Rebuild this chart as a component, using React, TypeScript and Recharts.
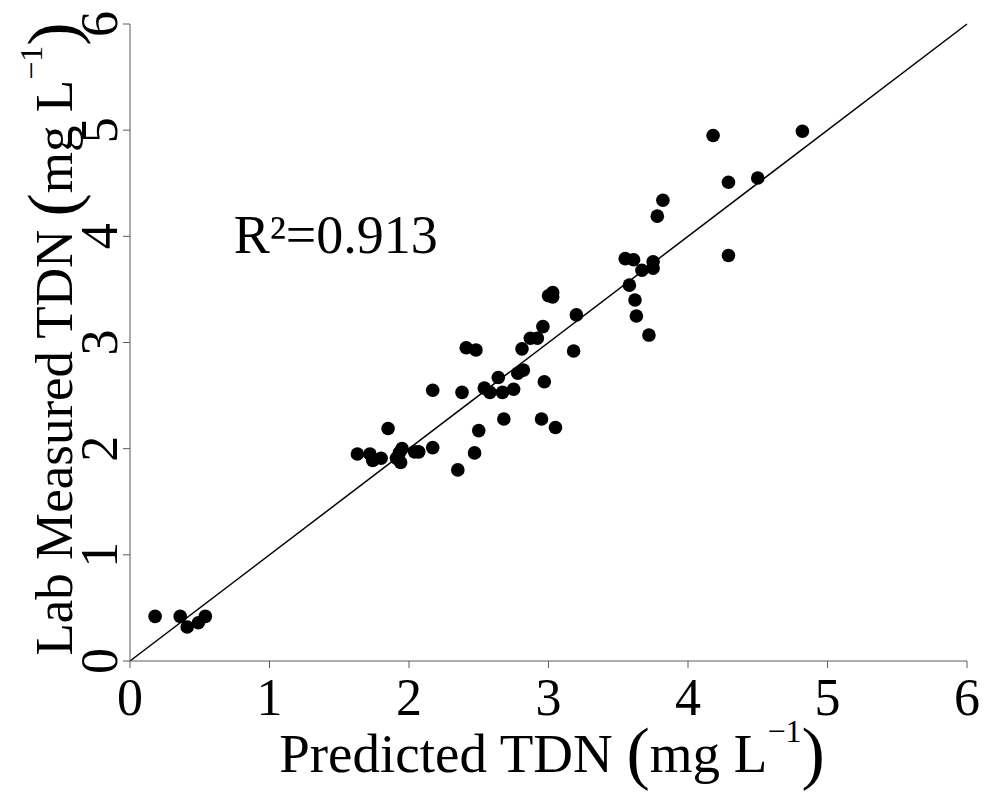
import {
  ReferenceDot,
  ReferenceLine,
  Scatter,
  ScatterChart,
  XAxis,
  YAxis,
} from "recharts";

const predicted = [
  0.18, 0.36, 0.41, 0.49, 0.54, 1.63, 1.72, 1.74, 1.8, 1.85, 1.91, 1.95, 1.93, 1.94, 2.04,
  2.07, 2.17, 2.35, 2.17, 2.38, 2.41, 2.48, 2.47, 2.5, 2.54, 2.58, 2.64, 2.67, 2.68, 2.75,
  2.78, 2.82, 2.81, 2.87, 2.92, 2.96, 2.97, 2.95, 3.05, 3.0, 3.03, 3.03, 3.2, 3.18, 3.55,
  3.61, 3.67, 3.75, 3.75, 3.58, 3.62, 3.63, 3.72, 4.18, 4.82, 4.29, 4.5, 3.82, 3.78, 4.29,
];
const measured = [
  0.42, 0.42, 0.32, 0.36, 0.42, 1.95, 1.95, 1.89, 1.91, 2.19, 1.91, 2.0, 1.96, 1.87, 1.97,
  1.97, 2.01, 1.8, 2.55, 2.53, 2.95, 2.93, 1.96, 2.17, 2.57, 2.53, 2.67, 2.53, 2.28, 2.56,
  2.71, 2.74, 2.94, 3.04, 3.04, 3.15, 2.63, 2.28, 2.2, 3.44, 3.47, 3.43, 3.26, 2.92, 3.79,
  3.78, 3.68, 3.76, 3.7, 3.54, 3.4, 3.25, 3.07, 4.95, 4.99, 4.51, 4.55, 4.34, 4.19, 3.82,
];
const ticks = [0, 1, 2, 3, 4, 5, 6];
const r2Label = "R²=0.913";

const points = predicted.map((x, i) => ({ x, y: measured[i] }));

const FONT = "'Liberation Serif', 'Times New Roman', serif";
const AXIS = "#5a5a5a";

function XTick({ x, y, payload }: any) {
  return (
    <text x={x} y={y + 45} textAnchor="middle" fontFamily={FONT} fontSize={52} fill="#000">
      {payload.value}
    </text>
  );
}

function YTick({ x, y, payload }: any) {
  return (
    <text
      transform={`translate(${x - 4},${y}) rotate(-90)`}
      textAnchor="middle"
      fontFamily={FONT}
      fontSize={52}
      fill="#000"
    >
      {payload.value}
    </text>
  );
}

function Unit() {
  return (
    <>
      <tspan fontSize={70} dy={4}>(</tspan>
      <tspan dy={-4}>mg L</tspan>
      <tspan fontSize={32} dy={-30}>−1</tspan>
      <tspan fontSize={70} dy={34}>)</tspan>
    </>
  );
}

function XLabel() {
  return (
    <text x={544} y={764} textAnchor="middle" fontFamily={FONT} fontSize={55} fill="#000">
      Predicted TDN <Unit />
    </text>
  );
}

function YLabel() {
  return (
    <text
      transform="translate(64,331) rotate(-90)"
      textAnchor="middle"
      fontFamily={FONT}
      fontSize={53}
      fill="#000"
    >
      Lab Measured TDN <Unit />
    </text>
  );
}

function Dot({ cx, cy }: any) {
  return <circle cx={cx} cy={cy} r={6.8} fill="#000" />;
}

export default function App() {
  return (
    <ScatterChart width={979} height={787} margin={{ top: 16, right: 20, bottom: 0, left: 0 }}>
      <XAxis
        type="number"
        dataKey="x"
        domain={[0, 6]}
        ticks={ticks}
        height={134}
        stroke={AXIS}
        tickSize={7}
        tick={<XTick />}
        label={{ content: () => <XLabel /> }}
      />
      <YAxis
        type="number"
        dataKey="y"
        domain={[0, 6]}
        ticks={ticks}
        width={122}
        stroke={AXIS}
        tickSize={7}
        tick={<YTick />}
        label={{ content: () => <YLabel /> }}
      />
      <ReferenceLine
        segment={[
          { x: 0, y: 0 },
          { x: 6, y: 6 },
        ]}
        stroke="#000"
        strokeWidth={1.5}
      />
      <ReferenceDot
        x={0.75}
        y={3.83}
        r={1}
        fill="none"
        stroke="none"
        label={{
          content: ({ viewBox }: any) => (
            <text x={viewBox.x} y={viewBox.y} fontFamily={FONT} fontSize={54} fill="#000">
              {r2Label}
            </text>
          ),
        }}
      />
      <Scatter data={points} shape={<Dot />} isAnimationActive={false} />
    </ScatterChart>
  );
}
